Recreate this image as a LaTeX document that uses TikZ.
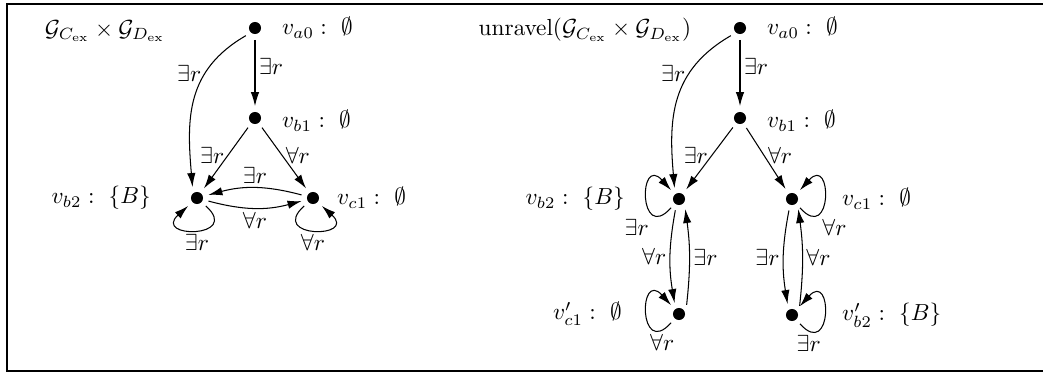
\documentclass[tikz,border=0pt]{standalone}
\usetikzlibrary{arrows.meta}
\begin{document}
\begin{tikzpicture}[x=0.43pt,y=0.43pt,
  dot/.style={circle,fill=black,inner sep=0pt,minimum size=5.2pt,outer sep=2.5pt},
  arr/.style={-{Latex[length=6pt,width=3.6pt]},line width=0.45pt},
  lab/.style={inner sep=1.5pt}]
\useasboundingbox (0,0) rectangle (1043,373);
\draw[line width=0.9pt] (1050,369) -- (7,369) -- (7,2) -- (1050,2);

% ---------- left graph ----------
\node (t1) at (105,342) {$\mathcal{G}_{C_{\mathrm{ex}}}\times\mathcal{G}_{D_{\mathrm{ex}}}$};
\node[dot] (a0) at (255,345) {};
\node[dot] (b1) at (255,255) {};
\node[dot] (b2) at (197,175) {};
\node[dot] (c1) at (313,175) {};
\node[anchor=west] (la0) at (274,345) {$v_{a0}:~\emptyset$};
\node[anchor=west] (lb1) at (274,252) {$v_{b1}:~\emptyset$};
\node[anchor=east] (lb2) at (159,175) {$v_{b2}:~\{B\}$};
\node[anchor=west] (lc1) at (329,175) {$v_{c1}:~\emptyset$};

\draw[arr] (a0) -- node[lab,right,pos=0.4]{$\exists r$} (b1);
\draw[arr] (a0.220) to[out=210,in=95,looseness=1.1] node[lab,anchor=east,pos=0.32]{$\exists r$} (b2.112);
\draw[arr] (b1) -- node[lab,left,pos=0.45]{$\exists r$} (b2);
\draw[arr] (b1) -- node[lab,right,pos=0.45]{$\forall r$} (c1);
\draw[arr] (c1) to[bend right=15] node[lab,above]{$\exists r$} (b2);
\draw[arr] (b2) to[bend right=15] node[lab,below]{$\forall r$} (c1);
\draw[arr] (b2) to[out=-42,in=-138,distance=21pt] node[lab,below]{$\exists r$} (b2);
\draw[arr] (c1) to[out=-138,in=-42,distance=21pt] node[lab,below]{$\forall r$} (c1);

% ---------- right graph ----------
\node (t2) at (585,343) {$\mathrm{unravel}(\mathcal{G}_{C_{\mathrm{ex}}}\times\mathcal{G}_{D_{\mathrm{ex}}})$};
\node[dot] (A0) at (740,345) {};
\node[dot] (B1) at (740,255) {};
\node[dot] (B2) at (679,174) {};
\node[dot] (C1) at (792,174) {};
\node[dot] (C1p) at (679,59) {};
\node[dot] (B2p) at (792,58) {};
\node[anchor=west] (lA0) at (759,345) {$v_{a0}:~\emptyset$};
\node[anchor=west] (lB1) at (759,252) {$v_{b1}:~\emptyset$};
\node[anchor=east] (lB2) at (633,174) {$v_{b2}:~\{B\}$};
\node[anchor=west] (lC1) at (834,174) {$v_{c1}:~\emptyset$};
\node[anchor=east] (lC1p) at (630,59) {$v'_{c1}:~\emptyset$};
\node[anchor=west] (lB2p) at (834,58) {$v'_{b2}:~\{B\}$};

\draw[arr] (A0) -- node[lab,right,pos=0.4]{$\exists r$} (B1);
\draw[arr] (A0.220) to[out=210,in=95,looseness=1.1] node[lab,anchor=east,pos=0.32]{$\exists r$} (B2.112);
\draw[arr] (B1) -- node[lab,left,pos=0.45]{$\exists r$} (B2);
\draw[arr] (B1) -- node[lab,right,pos=0.45]{$\forall r$} (C1);
\draw[arr] (B2.-108) to[bend right=10] node[lab,left]{$\forall r$} (C1p.112);
\draw[arr] (C1p.50) to[bend right=7] node[lab,right]{$\exists r$} (B2.-58);
\draw[arr] (C1.-105) to[bend right=10] node[lab,left]{$\exists r$} (B2p.112);
\draw[arr] (B2p.50) to[bend right=7] node[lab,right]{$\forall r$} (C1.-58);
\draw[arr] (B2) to[out=228,in=132,distance=21pt] node[lab,below left,pos=0.25]{$\exists r$} (B2);
\draw[arr] (C1p) to[out=228,in=132,distance=21pt] node[lab,below,pos=0.1]{$\forall r$} (C1p);
\draw[arr] (C1) to[out=-48,in=48,distance=21pt] node[lab,below right,pos=0.25]{$\forall r$} (C1);
\draw[arr] (B2p) to[out=-48,in=48,distance=21pt] node[lab,below,pos=0.1]{$\exists r$} (B2p);
\end{tikzpicture}
\end{document}
